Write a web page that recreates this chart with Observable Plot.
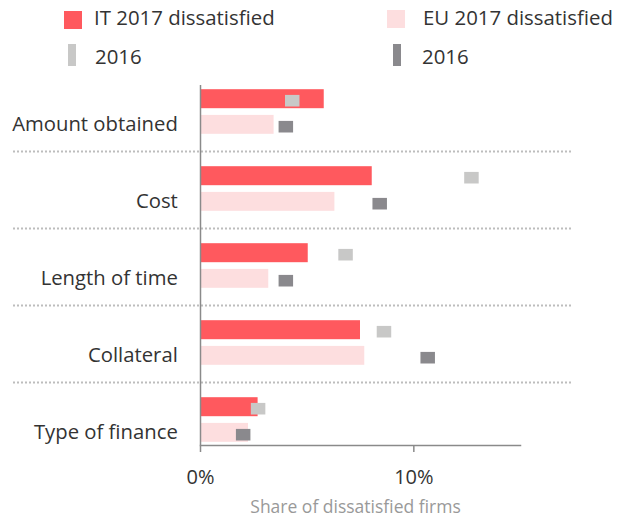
<!DOCTYPE html>
<html>
<head>
<meta charset="utf-8">
<script src="https://cdn.jsdelivr.net/npm/d3@7"></script>
<script src="https://cdn.jsdelivr.net/npm/@observablehq/plot@0.6"></script>
<style>
  html, body { margin: 0; padding: 0; background: #fff; }
  body { width: 625px; height: 519px; overflow: hidden; font-family: "Open Sans", sans-serif; color: #333; }
  #legend { position: relative; width: 625px; height: 60px; }
  #legend .sw { position: absolute; }
  #legend .lab { position: absolute; font-size: 20.4px; line-height: 20.4px; white-space: nowrap; color: #333; }
  #chart svg { display: block; }
</style>
</head>
<body>
<div id="legend"></div>
<div id="chart"></div>
<script>
const categories = ["Amount obtained", "Cost", "Length of time", "Collateral", "Type of finance"];
const it2017 = [5.8, 8.05, 5.05, 7.5, 2.7];
const eu2017 = [3.45, 6.3, 3.2, 7.7, 2.25];
const it2016 = [4.3, 12.7, 6.8, 8.6, 2.7];
const eu2016 = [4.0, 8.4, 4.0, 10.65, 2.0];
const xTicks = [0, 10];
const legendLabels = ["IT 2017 dissatisfied", "EU 2017 dissatisfied", "2016", "2016"];

const colors = { it17: "#ff595e", eu17: "#fddedf", it16: "#c8c8c7", eu16: "#8a898d" };

// Legend
const legend = document.getElementById("legend");
const items = [
  { color: colors.it17, sw: [64, 11, 18, 18], text: legendLabels[0], tx: 94, ty: 7.2 },
  { color: colors.eu17, sw: [387, 9.5, 18, 18], text: legendLabels[1], tx: 423, ty: 7 },
  { color: colors.it16, sw: [68, 44, 8, 22], text: legendLabels[2], tx: 95, ty: 45.9 },
  { color: colors.eu16, sw: [393, 44, 8, 22], text: legendLabels[3], tx: 422, ty: 45.9 }
];
for (const it of items) {
  const s = document.createElement("div");
  s.className = "sw";
  Object.assign(s.style, { left: it.sw[0] + "px", top: it.sw[1] + "px", width: it.sw[2] + "px", height: it.sw[3] + "px", background: it.color });
  legend.appendChild(s);
  const t = document.createElement("div");
  t.className = "lab";
  t.textContent = it.text;
  Object.assign(t.style, { left: it.tx + "px", top: it.ty + "px" });
  legend.appendChild(t);
}

const rows = categories.map((c, i) => ({ cat: c, it17: it2017[i], eu17: eu2017[i], it16: it2016[i], eu16: eu2016[i] }));

const chart = Plot.plot({
  width: 625,
  height: 459,
  marginLeft: 200,
  marginRight: 105,
  marginTop: 25,
  marginBottom: 74,
  style: { fontFamily: "Open Sans, sans-serif", background: "#fff", color: "#333" },
  x: { domain: [0, 15], label: null },
  y: { domain: categories, range: [12.1, 398.9], padding: 0, label: null },
  marks: [
    Plot.ruleY(categories.slice(1), { y: d => d, dy: -37.5, stroke: "#bdbdbd", strokeWidth: 2, strokeDasharray: "2,2", insetLeft: -187, insetRight: -52 }),
    Plot.barX(rows, { x: "it17", y: "cat", fill: colors.it17, insetTop: 16.2, insetBottom: 41.8 }),
    Plot.barX(rows, { x: "eu17", y: "cat", fill: colors.eu17, insetTop: 41.9, insetBottom: 16.2 }),
    Plot.tickX(rows, { x: "it16", y: "cat", stroke: colors.it16, strokeWidth: 14.5, strokeOpacity: 1, insetTop: 21.9, insetBottom: 43.5 }),
    Plot.tickX(rows, { x: "eu16", y: "cat", stroke: colors.eu16, strokeWidth: 14.5, strokeOpacity: 1, insetTop: 47.9, insetBottom: 17.5 }),
    Plot.ruleX([0], { stroke: "#8a8a8a", strokeWidth: 1.5 }),
    Plot.frame({ anchor: "bottom", stroke: "#8a8a8a", strokeWidth: 1.5 }),
    Plot.axisX({ ticks: xTicks, tickFormat: d => d + "%", tickSize: 7, tickPadding: 17.1, fontSize: 20, stroke: "#8a8a8a", strokeWidth: 1.5, color: "#333", label: null }),
    Plot.axisY({ tickSize: 0, tickPadding: 22.7, fontSize: 20.3, dy: 12.6, color: "#333", label: null }),
    Plot.text(["Share of dissatisfied firms"], { frameAnchor: "bottom", lineAnchor: "top", dy: 55.3, dx: -5, fontSize: 17.5, fill: "#999" })
  ]
});
document.getElementById("chart").appendChild(chart);
</script>
</body>
</html>
